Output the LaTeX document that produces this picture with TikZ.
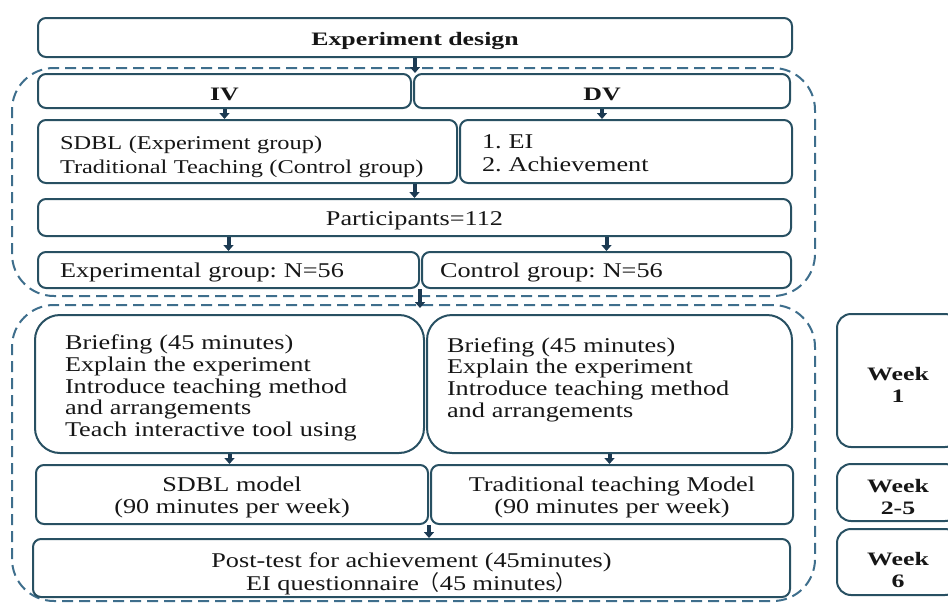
\documentclass[tikz,border=0pt]{standalone}
\usepackage{fontspec}
\setmainfont{Liberation Serif}[FakeStretch=1.25]
\newfontfamily\bw{Liberation Serif}[FakeStretch=1.36]
\newfontfamily\cjk{Noto Sans CJK SC}
\usetikzlibrary{arrows.meta}
\definecolor{boxc}{RGB}{40,80,98}
\definecolor{dashc}{RGB}{62,110,140}
\definecolor{arrc}{RGB}{28,58,82}
\definecolor{txt}{RGB}{22,22,22}
\newcommand\myup[1]{\rule{0pt}{#1}}
\frenchspacing
\begin{document}
\begin{tikzpicture}[x=1pt,y=-1pt,
  box/.style={draw=boxc, line width=2pt, rounded corners=8pt, inner sep=0pt,
    font=\frenchspacing\fontsize{21}{21.7}\selectfont, text=txt, align=center},
  bigbox/.style={box, rounded corners=25pt},
  weekbox/.style={box, rounded corners=14pt, font=\bw\bfseries\fontsize{19}{22}\selectfont},
  hd/.style={font=\bw\bfseries\fontsize{19}{22}\selectfont},
  bl/.style={text height=#1, text depth=0pt},
  frame/.style={draw=dashc, line width=2pt, dash pattern=on 11pt off 6pt,
    rounded corners=42pt, inner sep=0pt},
  arr/.style={draw=arrc, line width=4pt, -{Triangle[width=10pt,length=6pt]}}
]
\useasboundingbox (0,0) rectangle (948,608);
\clip (0,0) rectangle (948,608);

% dashed frames
\node[frame, minimum width=803pt, minimum height=228pt] (upper) at (413.5,182) {};
\node[frame, minimum width=803pt, minimum height=296pt] (lower) at (413.5,453) {};

% top part
\node[box, hd, bl=15pt, minimum width=754pt, minimum height=39pt] (design) at (415,37.5) {Experiment design};
\node[box, hd, bl=19pt, minimum width=373pt, minimum height=34pt] (iv) at (224.5,91) {IV};
\node[box, hd, bl=19pt, minimum width=376pt, minimum height=34pt] (dv) at (602,91) {DV};
\node[box, minimum width=419pt, minimum height=63pt, align=left, text width=375pt,
  font=\fontsize{19.5}{24.5}\selectfont] (sdbl) at (247.5,151.5)
  {\mbox{\myup{24pt}SDBL (Experiment group)}\\\mbox{Traditional Teaching (Control group)}};
\node[box, minimum width=332pt, minimum height=63pt, align=left, text width=288pt,
  font=\fontsize{21}{23.5}\selectfont] (ei) at (626,151.5)
  {\myup{17pt}1. EI\\2. Achievement};
\node[box, bl=15pt, minimum width=753pt, minimum height=37pt] (part) at (414.5,217.5) {Participants=112};
\node[box, bl=14pt, minimum width=381pt, minimum height=36pt, align=left, text width=337pt] (exp) at (228.5,270)
  {Experimental group: N=56};
\node[box, bl=14pt, minimum width=369pt, minimum height=36pt, align=left, text width=333pt] (ctl) at (606.5,270)
  {Control group: N=56};

% lower part
\node[bigbox, minimum width=389pt, minimum height=138pt, align=left, text width=329pt] (briefL) at (229.5,384)
  {\myup{23pt}Briefing (45 minutes)\\Explain the experiment\\Introduce teaching method\\and arrangements\\Teach interactive tool using};
\node[bigbox, minimum width=365pt, minimum height=138pt, align=left, text width=325pt] (briefR) at (609.5,384)
  {\myup{23pt}Briefing (45 minutes)\\Explain the experiment\\Introduce teaching method\\and arrangements\\\mbox{}};
\node[box, minimum width=392pt, minimum height=59pt] (sdblm) at (232,494.5)
  {\myup{20pt}SDBL model\\(90 minutes per week)};
\node[box, minimum width=362pt, minimum height=59pt] (trad) at (612,494.5)
  {\myup{20pt}Traditional teaching Model\\(90 minutes per week)};
\node[box, minimum width=757pt, minimum height=58pt] (post) at (411.5,568)
  {\myup{27pt}Post-test for achievement (45minutes)\\EI questionnaire{\cjk （}45 minutes{\cjk ）}};

% weeks
\node[weekbox, minimum width=122pt, minimum height=133pt] (w1) at (898,380.5) {\myup{22pt}Week\\1};
\node[weekbox, minimum width=122pt, minimum height=57pt] (w2) at (898,492.5) {\myup{22pt}Week\\2-5};
\node[weekbox, minimum width=122pt, minimum height=66pt] (w3) at (898,562) {\myup{30pt}Week\\6};

% arrows
\draw[arr] (design.south) -- (design.south |- iv.north);
\draw[arr] (iv.south) -- (iv.south |- sdbl.north);
\draw[arr] (dv.south) -- (dv.south |- ei.north);
\draw[arr] (part.north |- sdbl.south) -- (part.north);
\draw[arr] (exp.north |- part.south) -- (exp.north);
\draw[arr] (ctl.north |- part.south) -- (ctl.north);
\draw[arr, shorten >=6pt] (exp.south east) -- (exp.south east |- briefL.north);
\draw[arr] (briefL.south) -- (briefL.south |- sdblm.north);
\draw[arr] (briefR.south) -- (briefR.south |- trad.north);
\draw[arr] (sdblm.south east) -- (sdblm.south east |- post.north);
\end{tikzpicture}
\end{document}
